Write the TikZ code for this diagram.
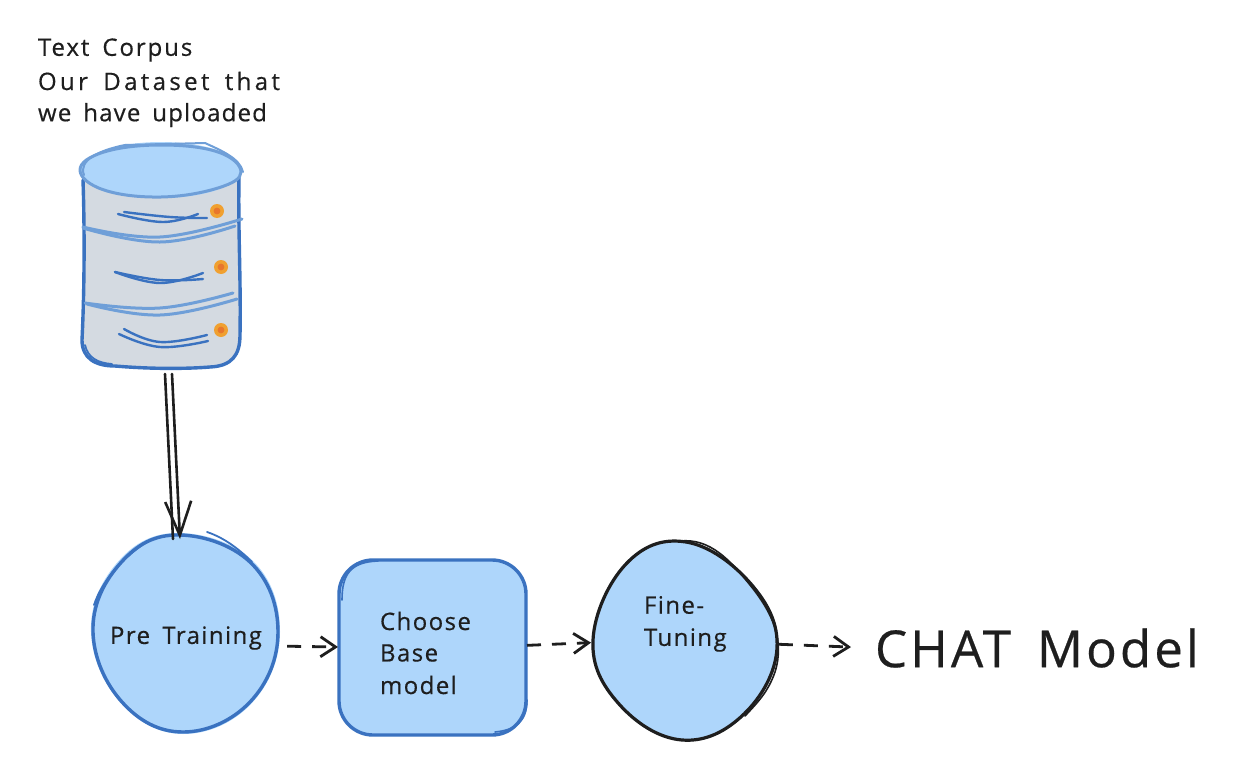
\documentclass[tikz,border=0pt]{standalone}
\usepackage{fontspec}
\setmainfont{Open Sans}[LetterSpace=6,WordSpace=1.6,FakeBold=0.5]
\usetikzlibrary{arrows.meta,shapes.geometric}
\definecolor{skyfill}{HTML}{AED6FB}
\definecolor{bodyfill}{HTML}{D4DAE1}
\definecolor{bluestroke}{HTML}{3A72C0}
\definecolor{lightstroke}{HTML}{6F9FD8}
\definecolor{ink}{HTML}{1E1E1E}
\definecolor{dotout}{HTML}{F0A030}
\definecolor{dotin}{HTML}{E8762C}
\tikzset{
  anchorshape/.style={inner sep=0pt,outer sep=0pt},
  label/.style={inner sep=0pt,outer sep=0pt,text=ink,font=\fontsize{24}{24}\selectfont,anchor=west},
  bluepen/.style={draw=bluestroke,line width=3.4pt,line join=round,line cap=round},
  lightpen/.style={draw=lightstroke,line width=3pt,line join=round,line cap=round},
  thinblue/.style={draw=bluestroke,line width=2.4pt,line cap=round},
  blackpen/.style={draw=ink,line width=3.2pt,line join=round,line cap=round},
  conn/.style={draw=ink,line width=2.8pt,dash pattern=on 14pt off 11pt,
    -{Straight Barb[length=15pt,width=20pt,line width=2.8pt]}},
  solidconn/.style={draw=ink,line width=2.6pt,line cap=round},
}
\begin{document}
\begin{tikzpicture}[x=1pt,y=-1pt]
\useasboundingbox (0,0) rectangle (1242,760);
\fill[white] (0,0) rectangle (1242,760);

% invisible shape anchors
\node[anchorshape,rectangle,minimum width=156pt,minimum height=230pt] (db) at (162,259) {};
\node[anchorshape,circle,minimum size=188pt] (pre) at (185,633) {};
\node[anchorshape,rectangle,minimum width=189pt,minimum height=176pt] (base) at (432.5,647) {};
\node[anchorshape,ellipse,minimum width=188pt,minimum height=200pt] (fine) at (685,641) {};

% cylinder
\path[fill=bodyfill] (84,175) -- (83,340) .. controls (83,360) and (95,367) .. (115,367) -- (210,367) .. controls (232,367) and (240,358) .. (240,335) -- (240,175) -- cycle;
\draw[bluepen] (83,180) .. controls (85,240) and (84,300) .. (82,340) .. controls (82,358) and (95,366) .. (115,366) .. controls (150,369) and (185,369) .. (210,367) .. controls (232,366) and (240,355) .. (240,335) .. controls (241,280) and (238,230) .. (239,178);
\draw[bluepen,line width=1.8pt] (85,345) .. controls (88,358) and (98,363) .. (112,364);
\fill[skyfill] (161,170) ellipse [x radius=80pt,y radius=28pt];
\draw[lightpen] plot[smooth cycle,tension=.68] coordinates {(161,145)(218,152)(241,172)(218,188)(161,197)(104,190)(80,170)(104,152)};
\draw[lightpen,line width=2pt] (84,175) .. controls (78,160) and (100,150) .. (125,145) -- (205,143) .. controls (220,150) and (240,158) .. (243,172);
% bands
\draw[lightpen] plot[smooth,tension=.7] coordinates {(83,227)(160,237)(242,219)};
\draw[lightpen] plot[smooth,tension=.7] coordinates {(83,228)(160,242)(235,226)};
\draw[lightpen] plot[smooth,tension=.7] coordinates {(85,303)(160,308)(233,293)};
\draw[lightpen] plot[smooth,tension=.7] coordinates {(87,304)(160,315)(237,299)};
% inner strokes
\draw[thinblue] plot[smooth,tension=.7] coordinates {(118,214)(163,222)(198,214)};
\draw[thinblue] plot[smooth,tension=.7] coordinates {(124,212)(170,217)(207,218)};
\draw[thinblue] plot[smooth,tension=.7] coordinates {(115,272)(160,283)(203,273)};
\draw[thinblue] plot[smooth,tension=.7] coordinates {(115,272)(160,280)(203,279)};
\draw[thinblue] plot[smooth,tension=.7] coordinates {(124,329)(160,342)(207,335)};
\draw[thinblue] plot[smooth,tension=.7] coordinates {(119,334)(160,347)(208,341)};
% dots
\foreach \cx/\cy in {217/211,221/267,221/330}{
  \fill[dotout] (\cx,\cy) circle [radius=7pt];
  \fill[dotin] (\cx,\cy) circle [radius=3.4pt];
}

% pre training
\path[fill=skyfill] plot[smooth cycle,tension=.68] coordinates {(175,533)(252,560)(280,632)(251,704)(183,734)(121,703)(91,632)(116,564)};
\draw[bluepen] plot[smooth cycle,tension=.68] coordinates {(175,535)(250,562)(278,632)(250,702)(183,732)(122,702)(93,632)(118,566)};
\draw[bluepen,line width=1.8pt] (94,605) .. controls (102,580) and (125,555) .. (150,540);
\draw[bluepen,line width=1.8pt] (207,532) .. controls (225,538) and (240,550) .. (252,562);

% base
\path[fill=skyfill,rounded corners=36pt] (338,559) rectangle (527,736);
\draw[bluepen,rounded corners=34pt] (339,560) rectangle (526,735);
\draw[bluepen,line width=1.6pt] (342,600) .. controls (342,575) and (350,562) .. (378,561);
\draw[bluepen,line width=1.6pt] (527,700) .. controls (527,722) and (515,730) .. (495,732);

% fine tuning
\path[fill=skyfill] plot[smooth cycle,tension=.68] coordinates {(686,541)(752,583)(778,648)(745,715)(682,741)(618,705)(592,640)(625,563)};
\draw[blackpen] plot[smooth cycle,tension=.68] coordinates {(686,542)(751,584)(777,648)(744,714)(682,740)(619,704)(593,640)(626,564)};
\draw[blackpen,line width=1.6pt] (680,541) .. controls (710,538) and (730,560) .. (750,585) .. controls (772,612) and (785,640) .. (775,672) .. controls (768,692) and (758,702) .. (745,716);

% labels
\node[label,font=\fontsize{24}{24}\selectfont\addfontfeature{LetterSpace=8}] (l1) at (38,50) {Text Corpus};
\node[label,font=\fontsize{24}{24}\selectfont\addfontfeature{LetterSpace=14}] (l2) at (38,81) {Our Dataset that};
\node[label,font=\fontsize{24}{24}\selectfont\addfontfeature{LetterSpace=5}] (l3) at (38,115) {we have uploaded};
\node[label] (lpre) at (110,638) {Pre Training};
\node[label] (lb1) at (380,621) {Choose};
\node[label] (lb2) at (380,653) {Base};
\node[label] (lb3) at (380,685) {model};
\node[label] (lf1) at (644,605) {Fine-};
\node[label] (lf2) at (644,640) {Tuning};
\node[label,font=\fontsize{51}{51}\selectfont] (chat) at (875,648) {CHAT Model};

% connectors
\draw[solidconn] ([xshift=3pt]db.south) -- ([xshift=-12pt]pre.north);
\draw[solidconn,-{Straight Barb[length=34pt,width=26pt,line width=2.6pt]}] ([xshift=10pt]db.south) -- ([xshift=-5pt]pre.north);
\draw[conn,shorten <=9pt] (pre.-8) -- (base.west);
\draw[conn] (base.1) -- (fine.181);
\draw[conn,shorten >=24pt] (fine.-2) -- (chat.west);
\end{tikzpicture}
\end{document}
